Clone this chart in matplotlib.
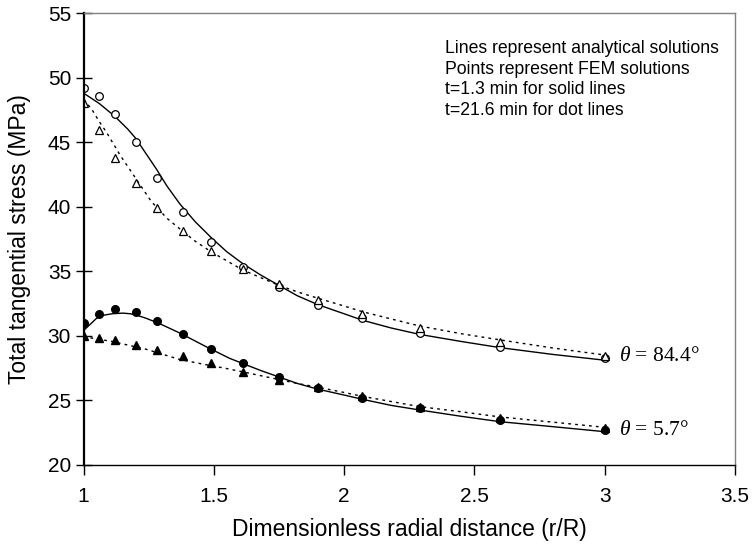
import numpy as np
import matplotlib
matplotlib.use('Agg')
import matplotlib.pyplot as plt

plt.rcParams['font.family'] = ['Liberation Sans', 'DejaVu Sans']
plt.rcParams['mathtext.fontset'] = 'custom'
plt.rcParams['mathtext.rm'] = 'Liberation Serif'
plt.rcParams['mathtext.it'] = 'Liberation Serif:italic'

# FEM points (same r/R positions for all four series)
x_fem = [1.0, 1.06, 1.12, 1.2, 1.28, 1.38, 1.49, 1.61, 1.75, 1.9, 2.07, 2.29, 2.6, 3.0]
fem_84_short = [49.2, 48.6, 47.2, 45.0, 42.2, 39.6, 37.3, 35.35, 33.75, 32.4, 31.35, 30.2, 29.15, 28.25]
fem_84_long = [48.06, 45.95, 43.8, 41.8, 39.9, 38.1, 36.6, 35.2, 34.0, 32.8, 31.7, 30.6, 29.5, 28.4]
fem_5_short = [31.0, 31.7, 32.1, 31.8, 31.1, 30.1, 28.95, 27.9, 26.8, 25.95, 25.2, 24.4, 23.5, 22.7]
fem_5_long = [30.0, 29.85, 29.65, 29.3, 28.9, 28.4, 27.9, 27.2, 26.6, 26.0, 25.3, 24.5, 23.6, 22.85]

# analytical solutions
x_ana_84_short = [1.0, 1.06, 1.12, 1.17, 1.2, 1.24, 1.28, 1.32, 1.37, 1.43, 1.49, 1.55, 1.61,
                  1.68, 1.75, 1.82, 1.9, 2.0, 2.07, 2.18, 2.29, 2.45, 2.6, 2.8, 3.0]
ana_84_short = [48.8, 48.0, 47.0, 46.0, 45.3, 44.1, 42.9, 41.6, 40.2, 38.8, 37.6, 36.5, 35.6,
                34.7, 33.9, 33.1, 32.4, 31.7, 31.2, 30.6, 30.1, 29.55, 29.07, 28.55, 28.1]

x_ana_84_long = [1.0, 1.03, 1.06, 1.09, 1.14, 1.19, 1.23, 1.26, 1.32, 1.38, 1.43, 1.49, 1.55,
                 1.61, 1.68, 1.75, 1.82, 1.9, 2.0, 2.07, 2.18, 2.29, 2.45, 2.6, 2.8, 3.0]
ana_84_long = [48.3, 47.6, 46.6, 45.7, 44.0, 42.5, 41.3, 40.4, 39.1, 38.1, 37.3, 36.5, 35.8,
               35.1, 34.5, 33.9, 33.4, 32.9, 32.3, 31.86, 31.3, 30.75, 30.15, 29.67, 29.05, 28.5]

x_ana_5_short = [1.0, 1.05, 1.08, 1.11, 1.15, 1.18, 1.21, 1.24, 1.29, 1.37, 1.47, 1.56, 1.61,
                 1.68, 1.75, 1.82, 1.9, 2.0, 2.07, 2.18, 2.29, 2.45, 2.6, 2.8, 3.0]
ana_5_short = [30.4, 31.35, 31.6, 31.7, 31.75, 31.7, 31.55, 31.35, 30.95, 30.2, 29.15, 28.25, 27.85,
               27.3, 26.8, 26.3, 25.85, 25.4, 25.07, 24.6, 24.24, 23.75, 23.33, 22.95, 22.56]

x_ana_5_long = [1.0, 1.11, 1.24, 1.37, 1.47, 1.55, 1.61, 1.68, 1.75, 1.82, 1.9, 2.0, 2.07,
                2.18, 2.29, 2.45, 2.6, 2.8, 3.0]
ana_5_long = [29.92, 29.55, 28.95, 28.15, 27.75, 27.45, 27.2, 26.9, 26.6, 26.3, 26.0, 25.6, 25.3,
              24.9, 24.5, 24.1, 23.7, 23.3, 22.9]

x_ticks = [1, 1.5, 2, 2.5, 3, 3.5]
y_ticks = [20, 25, 30, 35, 40, 45, 50, 55]

note = ("Lines represent analytical solutions\n"
        "Points represent FEM solutions\n"
        "t=1.3 min for solid lines\n"
        "t=21.6 min for dot lines")

fig = plt.figure(figsize=(7.53, 5.48), dpi=100)
ax = fig.add_axes([0.111, 0.152, 0.865, 0.824])

dots = (0, (2, 3))
ax.plot(x_ana_84_short, ana_84_short, color='black', lw=1.0)
ax.plot(x_ana_84_long, ana_84_long, color='black', lw=1.0, linestyle=dots)
ax.plot(x_ana_5_short, ana_5_short, color='black', lw=1.0)
ax.plot(x_ana_5_long, ana_5_long, color='black', lw=1.0, linestyle=dots)

ax.plot(x_fem, fem_84_short, 'o', mfc='white', mec='black', mew=0.9, ms=5.5, ls='none')
ax.plot(x_fem, fem_84_long, '^', mfc='white', mec='black', mew=0.9, ms=5.5, ls='none')
ax.plot(x_fem, fem_5_short, 'o', mfc='black', mec='black', ms=5.5, ls='none')
ax.plot(x_fem, fem_5_long, '^', mfc='black', mec='black', ms=5.5, ls='none')

ax.set_xlim(1, 3.5)
ax.set_ylim(20, 55)
ax.set_xticks(x_ticks)
ax.set_xticklabels(['1', '1.5', '2', '2.5', '3', '3.5'])
ax.set_yticks(y_ticks)

ax.tick_params(axis='y', direction='inout', length=12, width=1, labelsize=15, pad=3)
ax.tick_params(axis='x', direction='out', length=7, width=1, labelsize=15, pad=9)

ax.spines['left'].set_linewidth(1.6)
ax.spines['bottom'].set_linewidth(1.0)
for s in ('top', 'right'):
    ax.spines[s].set_color('#808080')
    ax.spines[s].set_linewidth(1.0)

ax.set_xlabel('Dimensionless radial distance (r/R)', fontsize=16.5, labelpad=9)
ax.set_ylabel('Total tangential stress (MPa)', fontsize=16.5, labelpad=12)

ax.text(0.555, 0.94, note, transform=ax.transAxes, fontsize=12.7,
        va='top', ha='left', linespacing=1.27)

ax.text(3.055, 28.35, r'$\theta$ = 84.4°', fontsize=15.5, family='Liberation Serif',
        va='center', ha='left')
ax.text(3.055, 22.67, r'$\theta$ = 5.7°', fontsize=15.5, family='Liberation Serif',
        va='center', ha='left')

fig.savefig('out.png', dpi=100)
